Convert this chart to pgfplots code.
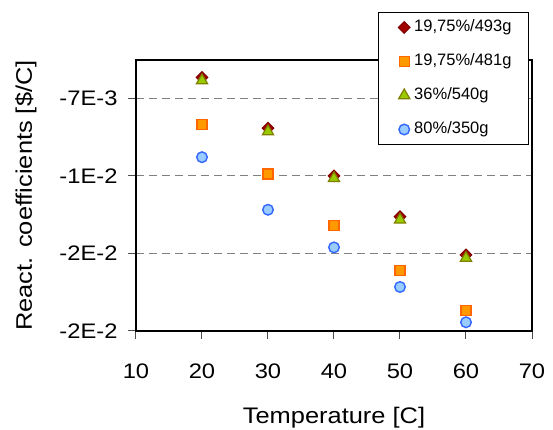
\documentclass[border=0pt]{standalone}
\usepackage{fontspec}
\setmainfont{Liberation Sans}
\newfontfamily\wide{Liberation Sans}[FakeStretch=1.13]
\usepackage{pgfplots}
\pgfplotsset{compat=1.18}
\usetikzlibrary{plotmarks}
\definecolor{dred}{HTML}{A00000}
\definecolor{dredb}{HTML}{800000}
\definecolor{orf}{HTML}{FF9900}
\definecolor{orb}{HTML}{FF6600}
\definecolor{olf}{HTML}{99CC00}
\definecolor{olb}{HTML}{808000}
\definecolor{blf}{HTML}{99CCFF}
\definecolor{blb}{HTML}{3366FF}
\begin{document}
\begin{tikzpicture}
\useasboundingbox (-136pt,-99pt) rectangle (417pt,331pt);
\begin{axis}[
  at={(0,0)}, anchor=south west,
  scale only axis, width=396pt, height=271pt,
  xmin=10, xmax=70, xtick={10,20,...,70},
  ymin=-0.019, ymax=-0.00503,
  ytick={-0.019,-0.015,-0.011,-0.007},
  yticklabels={-2E-2,-2E-2,-1E-2,-7E-3},
  scaled y ticks=false,
  /pgf/number format/assume math mode=true,
  tick label style={font=\wide\fontsize{21}{24}\selectfont},
  xticklabel style={yshift=-21pt},
  yticklabel style={xshift=-7pt},
  xtick pos=bottom, ytick pos=left,
  tick align=outside, major tick length=8pt,
  tick style={draw=black!70, line width=1pt},
  axis line style={line width=1.2pt},
  ymajorgrids,
  grid style={draw=black!50, dash pattern=on 8pt off 5pt, line width=1pt},
  xlabel={Temperature [C]},
  ylabel={React. coefficients [\$/C]},
  label style={font=\wide\fontsize{22.5}{26}\selectfont},
  xlabel style={yshift=-22pt},
  ylabel style={yshift=16pt},
  legend cell align=left,
  legend style={at={(1,1)}, anchor=north east, xshift=-3pt, yshift=48pt,
    draw=black, line width=1pt, fill=white,
    inner xsep=13pt, inner ysep=7pt, row sep=18pt,
    font=\fontsize{16.5}{19}\selectfont,
    nodes={inner xsep=4pt, inner ysep=0pt, text height=12pt, text depth=4pt}},
  legend image code/.code={%
    \path[draw=none] (0pt,0pt) -- (19pt,0pt);
    \draw[mark repeat=2, mark phase=2, #1, /tikz/only marks]
      plot coordinates {(7pt,0pt) (13pt,0pt) (19pt,0pt)};},
]
\addplot[only marks, mark=square*, mark size=4.1pt,
  mark options={rotate=45, fill=dred, draw=dredb, line width=1pt}]
  coordinates {(20,-0.00593) (30,-0.00854) (40,-0.01100) (50,-0.01311) (60,-0.01507)};
\addlegendentry{19,75\%/493g}
\addplot[only marks, mark=square*, mark size=5pt,
  mark options={fill=orf, draw=orb, line width=1.2pt}]
  coordinates {(20,-0.00834) (30,-0.01091) (40,-0.01356) (50,-0.01588) (60,-0.01795)};
\addlegendentry{19,75\%/481g}
\addplot[only marks, mark=triangle*, mark size=6.5pt,
  mark options={fill=olf, draw=olb, line width=1.2pt}]
  coordinates {(20,-0.00609) (30,-0.00872) (40,-0.01113) (50,-0.01327) (60,-0.01524)};
\addlegendentry{36\%/540g}
\addplot[only marks, mark=*, mark size=5.3pt,
  mark options={fill=blf, draw=blb, line width=1.4pt}]
  coordinates {(20,-0.01004) (30,-0.01275) (40,-0.01469) (50,-0.01673) (60,-0.01855)};
\addlegendentry{80\%/350g}
\end{axis}
\end{tikzpicture}
\end{document}
